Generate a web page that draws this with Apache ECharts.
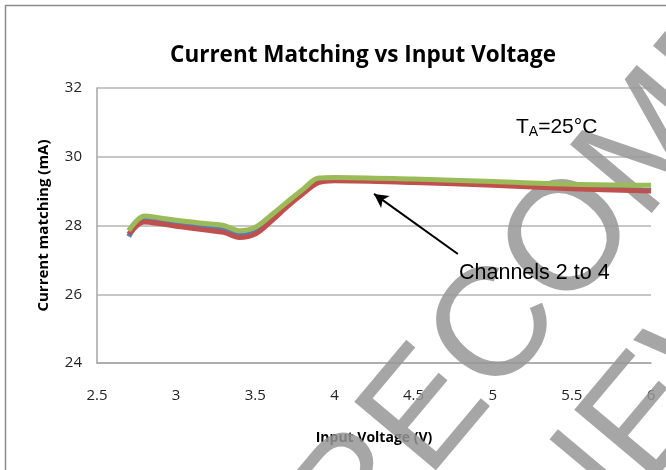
<!DOCTYPE html>
<html>
<head>
<meta charset="utf-8">
<script src="https://cdn.jsdelivr.net/npm/echarts@6/dist/echarts.min.js"></script>
<style>html,body{margin:0;padding:0;background:#fff}#c{width:666px;height:470px}</style>
</head>
<body>
<div id="c"></div>
<script>
const voltages = [2.7, 2.8, 2.9, 3.0, 3.1, 3.2, 3.3, 3.4, 3.5, 3.6, 3.7, 3.8, 3.9, 4.0, 4.5, 5.0, 5.5, 6.0];
const channel2 = [27.68, 28.18, 28.12, 28.05, 27.99, 27.93, 27.87, 27.72, 27.82, 28.20, 28.60, 28.98, 29.32, 29.36, 29.30, 29.22, 29.10, 29.02];
const channel3 = [27.75, 28.10, 28.05, 27.98, 27.92, 27.86, 27.80, 27.65, 27.75, 28.12, 28.54, 28.92, 29.25, 29.30, 29.25, 29.17, 29.07, 29.00];
const channel4 = [27.85, 28.28, 28.22, 28.15, 28.10, 28.05, 28.00, 27.85, 27.95, 28.30, 28.68, 29.05, 29.38, 29.40, 29.35, 29.28, 29.20, 29.17];
const yTicks = [24, 26, 28, 30, 32];
const xTicks = [2.5, 3, 3.5, 4, 4.5, 5, 5.5, 6];
const arrowFrom = [4.78, 27.17];
const arrowTo = [4.25, 28.92];

const pair = (ys) => voltages.map((v, i) => [v, ys[i]]);
const tickFont = 'Open Sans';
const chart = echarts.init(document.getElementById('c'), null, {renderer: 'canvas'});
const rot = 50 * Math.PI / 180;

chart.setOption({
  animation: false,
  backgroundColor: '#fff',
  title: {
    text: 'Current Matching vs Input Voltage',
    left: 358, top: 39, textAlign: 'center',
    textStyle: {fontFamily: 'Open Sans', fontWeight: 'bold', fontSize: 22.5, color: '#000'}
  },
  grid: {left: 97, right: 15, top: 88, bottom: 107, containLabel: false},
  xAxis: {
    type: 'value', min: 2.5, max: 6, interval: 0.5,
    name: 'Input Voltage (V)', nameLocation: 'middle', nameGap: 68,
    nameTextStyle: {fontFamily: 'Open Sans', fontWeight: 'bold', fontSize: 14, color: '#000'},
    axisLine: {show: true, lineStyle: {color: '#a6a6a6', width: 1.5}},
    axisTick: {show: false},
    splitLine: {show: false},
    axisLabel: {margin: 25, fontFamily: tickFont, fontSize: 15, color: '#222',
      formatter: (v) => xTicks.includes(v) ? String(v) : ''}
  },
  yAxis: {
    type: 'value', min: 24, max: 32, interval: 2,
    name: 'Current matching (mA)', nameLocation: 'middle', nameGap: 46,
    nameTextStyle: {fontFamily: 'Open Sans', fontWeight: 'bold', fontSize: 15, color: '#000'},
    axisLine: {show: true, lineStyle: {color: '#a6a6a6', width: 1.5}},
    axisTick: {show: false},
    splitLine: {show: true, lineStyle: {color: '#b4b4b4', width: 1.5}},
    axisLabel: {margin: 15, fontFamily: tickFont, fontSize: 15, color: '#222',
      formatter: (v) => yTicks.includes(v) ? String(v) : ''}
  },
  series: [
    {name: 'Channel 2', type: 'line', data: pair(channel2), smooth: 0.35, showSymbol: false,
      lineStyle: {color: '#4F81BD', width: 5}, z: 3},
    {name: 'Channel 3', type: 'line', data: pair(channel3), smooth: 0.35, showSymbol: false,
      lineStyle: {color: '#C0504D', width: 5}, z: 4},
    {name: 'Channel 4', type: 'line', data: pair(channel4), smooth: 0.35, showSymbol: false,
      lineStyle: {color: '#9BBB59', width: 5}, z: 5,
      markLine: {
        silent: true, symbol: ['none', 'arrow'], symbolSize: [11, 14],
        lineStyle: {color: '#000', width: 2, type: 'solid'},
        label: {show: false},
        data: [[{coord: arrowFrom}, {coord: arrowTo}]]
      }}
  ],
  graphic: [
    {type: 'rect', z: 0, shape: {x: 5.5, y: 5.5, width: 700, height: 500},
      style: {fill: 'none', stroke: '#8c8c8c', lineWidth: 1.5}},
    {type: 'text', z: 1, x: 85, y: 822, rotation: rot,
      style: {text: 'NOT RECOMMENDED', font: '155px "Liberation Sans"', fill: 'rgba(150,150,150,0.85)',
        align: 'left', verticalAlign: 'middle'}},
    {type: 'text', z: 1, x: 305, y: 830, rotation: rot,
      style: {text: 'FOR NEW DESIGNS', font: '155px "Liberation Sans"', fill: 'rgba(150,150,150,0.85)',
        align: 'left', verticalAlign: 'middle'}},
    {type: 'text', z: 10, x: 516, y: 127,
      style: {text: '{t|T}{s|A}{t|=25°C}', verticalAlign: 'middle',
        rich: {
          t: {fontFamily: 'Liberation Sans', fontSize: 21, color: '#000', lineHeight: 24, verticalAlign: 'middle'},
          s: {fontFamily: 'Liberation Sans', fontSize: 14, color: '#000', padding: [10, 0, 0, 0], verticalAlign: 'middle'}
        }}},
    {type: 'text', z: 10, x: 459, y: 273,
      style: {text: 'Channels 2 to 4', font: '21.5px "Liberation Sans"', fill: '#000', verticalAlign: 'middle'}}
  ]
});
</script>
</body>
</html>
